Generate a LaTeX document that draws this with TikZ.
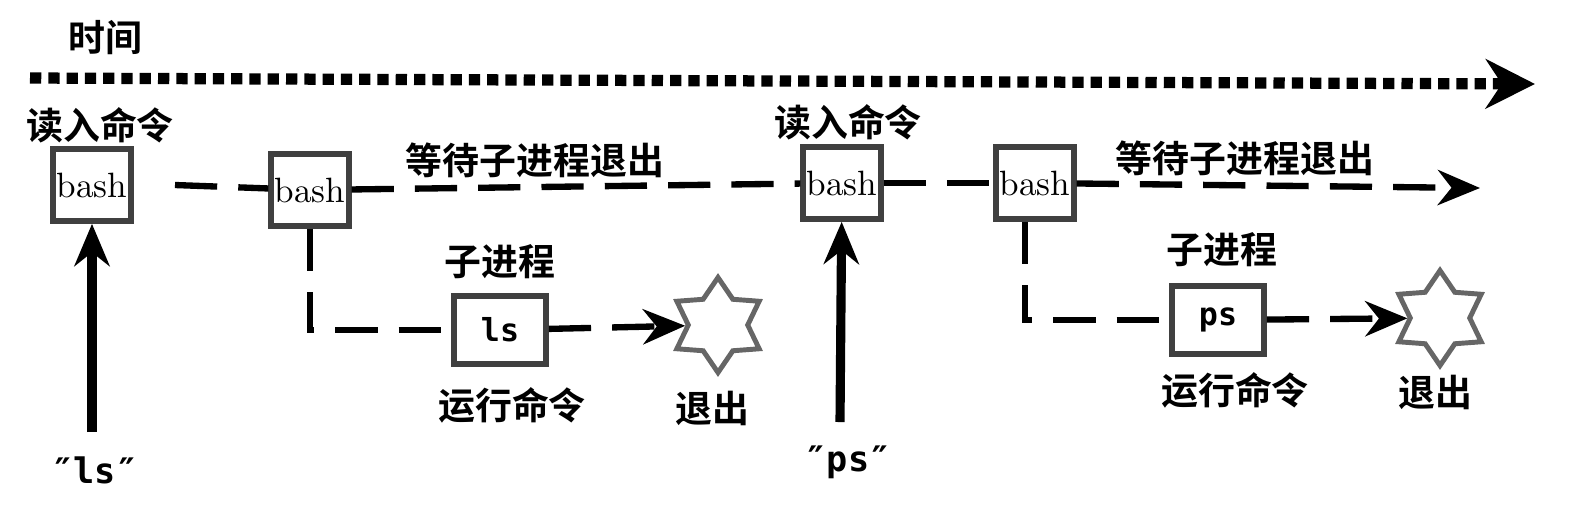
\documentclass[tikz,border=0pt]{standalone}
\usepackage{fontspec}
\newfontfamily\cjk{Noto Sans CJK SC}[BoldFont={Noto Sans CJK SC Bold}]
\newfontfamily\qmono{DejaVu Sans Mono}
\usetikzlibrary{positioning,shapes.geometric,arrows.meta}
\tikzset{
  proc/.style={draw=black!75,line width=1.6pt,fill=white,minimum width=0.7cm,minimum height=0.72cm,inner sep=1pt,font=\fontsize{10}{12}\selectfont},
  kid/.style={proc,minimum width=0.92cm,minimum height=0.68cm,font=\qmono\bfseries\fontsize{9}{11}\selectfont},
  quit/.style={star,star points=6,star point ratio=1.6,draw=black!60,line width=1.4pt,minimum size=0.95cm,inner sep=0pt},
  wait/.style={dashed,line width=1.8pt,dash pattern=on 12pt off 6pt},
  input/.style={line width=2.6pt,-{Stealth[length=12pt,width=10pt]}},
  lbl/.style={font=\cjk\bfseries\fontsize{10.5}{12}\selectfont}
}
\begin{document}
\begin{tikzpicture}[x=0.01cm,y=-0.01cm]
      \useasboundingbox (0,0) rectangle (1588,520);
      \node[lbl] (time) at (105,38) {时间};
      \coordinate (t0) at (30,78);
      \coordinate (t1) at (1535,84);
      \draw[line width=3.2pt,dotted,-{Stealth[length=14pt,width=14pt]}] (t0) -- (t1);
      % parent
      \node[proc] (b1) at (92,185) {bash};
      \node[lbl] (r1) at (100,125) {读入命令};
      \node[proc] (b2) at (310,190) {bash};
      \node[proc] (b3) at (842,183) {bash};
      \node[lbl] (r2) at (848,122) {读入命令};
      \node[proc] (b4) at (1035,183) {bash};
      \node[lbl] (w1) at (535,160) {等待子进程退出};
      \node[lbl] (w2) at (1245,158) {等待子进程退出};
      \coordinate (s1) at (175,185);
      \coordinate (e1) at (1480,188);
      \draw[wait] (s1) -- (b2);
      \draw[wait] (b2) -- (b3);
      \draw[wait] (b3) -- (b4);
      \draw[wait,-{Stealth[length=12pt,width=10pt]}] (b4) -- (e1);
      % input
      \coordinate (i1) at (92,432);
      \coordinate (i2) at (840,422);
      \draw[input] (i1) -- (b1);
      \draw[input] (i2) -- (b3);
      \node[font=\qmono\bfseries\fontsize{10}{12}\selectfont] (q1) at (95,470) {″ls″};
      \node[font=\qmono\bfseries\fontsize{10}{12}\selectfont] (q2) at (848,462) {″ps″};
      % children
      \node[kid] (ls) at (500,330) {ls};
      \node[lbl] (c1) at (500,262) {子进程};
      \node[lbl] (x1) at (512,405) {运行命令};
      \node[quit] (z1) at (718,325) {};
      \node[lbl] (y1) at (712,408) {退出};
      \draw[wait] (b2) |- (ls);
      \draw[wait,-{Stealth[length=12pt,width=10pt]}] (ls) -- (z1);
      \node[kid] (ps) at (1218,320) {ps};
      \node[lbl] (c2) at (1222,250) {子进程};
      \node[lbl] (x2) at (1235,390) {运行命令};
      \node[quit] (z2) at (1440,318) {};
      \node[lbl] (y2) at (1435,392) {退出};
      \draw[wait] ([xshift=-0.1cm]b4.south) |- (ps);
      \draw[wait,-{Stealth[length=12pt,width=10pt]}] (ps) -- (z2);
\end{tikzpicture}
\end{document}
